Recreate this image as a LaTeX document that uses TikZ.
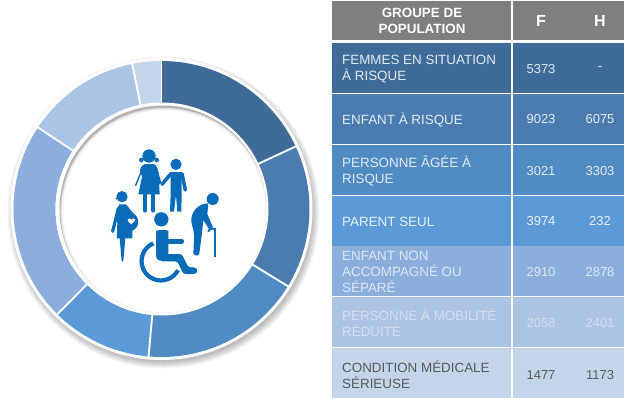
\documentclass[tikz,border=0pt]{standalone}
\usepackage{fontspec}
\setmainfont{Liberation Sans}
\definecolor{cA}{HTML}{3E6B98}
\definecolor{cB}{HTML}{4A7CAF}
\definecolor{cC}{HTML}{508CC3}
\definecolor{cD}{HTML}{5B9AD6}
\definecolor{cE}{HTML}{8BAEDC}
\definecolor{cF}{HTML}{ACC4E4}
\definecolor{cG}{HTML}{C4D5EB}
\definecolor{cH}{HTML}{7F7F7F}
\definecolor{ic}{HTML}{0A6CB8}
\newcommand{\ringseg}[3]{\fill[#1,shift={(161.5,209)}] (#2-90:148) arc[start angle=#2-90,end angle=#3-90,radius=148] -- (#3-90:106) arc[start angle=#3-90,end angle=#2-90,radius=106] -- cycle;
\draw[white,line width=1.9pt,shift={(161.5,209)}] (#2-90:104) -- (#2-90:150);}
\tikzset{
 cell/.style={anchor=north west,inner sep=0pt,outer sep=0pt,minimum width=#1,minimum height=50pt},
 lab/.style={anchor=west,inner sep=0pt,align=left,font=\fontsize{13.4}{16}\selectfont},
 num/.style={inner sep=0pt,font=\fontsize{13}{16}\selectfont},
 head/.style={inner sep=0pt,align=center,text=white,font=\bfseries\fontsize{13.4}{16}\selectfont},
 limb/.style={draw=ic,line cap=round,line join=round,line width=#1},
}
\begin{document}
\begin{tikzpicture}[x=1pt,y=1pt,yscale=-1]
\useasboundingbox (0,0) rectangle (624,397);
\fill[white] (0,0) rectangle (624,397);
% outer soft shadow
\foreach \r in {156,155,154,153,152,151,150,149}{\fill[black,opacity=0.035] (163.5,212.5) circle[radius=\r];}
\fill[white] (161.5,209) circle[radius=151];
% ring
\ringseg{cA}{0}{65}
\ringseg{cB}{65}{121.4}
\ringseg{cC}{121.4}{185}
\ringseg{cD}{185}{224.7}
\ringseg{cE}{224.7}{303.4}
\ringseg{cF}{303.4}{348.6}
\ringseg{cG}{348.6}{360}
\draw[white,line width=1.9pt,shift={(161.5,209)}] (-90:104) -- (-90:150);
% inner disc with inner shadow
\fill[white] (162,209) circle[radius=106.5];
\begin{scope}
\clip (163,209) circle[radius=103.5];
\fill[black!30] (163,209) circle[radius=103.5];
\foreach \r/\o in {104/0.25,103.5/0.3,103/0.35,102.5/0.4,102/0.45,101.5/0.5,101/0.55,100.5/0.6,100/0.7}{\fill[white,opacity=\o] (164.2,211.5) circle[radius=\r];}
\fill[white] (164.2,211.5) circle[radius=99.5];
\end{scope}
% icons
\begin{scope}[shift={(100,140)},scale=1/3]
% woman
\fill[ic] (147,48) circle[radius=20];
\fill[ic] (124,60) circle[radius=7];
\fill[ic] (170,60) circle[radius=7];
\fill[ic] (135,72) -- (159,72) .. controls (170,74) and (172,85) .. (176,100) -- (179,163) -- (115,163) -- (126,110) -- (120,90) .. controls (124,78) and (128,74) .. (135,72) -- cycle;
\fill[ic] (159,72) .. controls (170,76) and (172,85) .. (176,100) -- (184,128) -- (176,135) -- (160,100) -- cycle;
\draw[limb=1.4pt] (130,80) -- (107,136);
\draw[limb=3.8pt] (136,160) -- (136,212);
\draw[limb=3.8pt] (160,160) -- (160,212);
% child
\fill[ic] (228,73) circle[radius=17];
\fill[ic] (212,96) -- (245,96) -- (245,160) -- (244,215) -- (232,215) -- (228,165) -- (222,215) -- (210,215) -- (212,160) -- cycle;
\draw[limb=3.5pt] (213,101) -- (186,133);
\draw[limb=3.5pt] (246,101) -- (256,150);
% pregnant woman
\fill[ic] (66,170) circle[radius=17];
\fill[ic] (49,176) circle[radius=3];
\fill[ic] (58,193) -- (78,193) .. controls (88,205) and (92,212) .. (100,220) .. controls (120,232) and (120,262) .. (97,272) -- (97,295) -- (50,295) -- (52,250) -- (48,215) -- cycle;
\draw[limb=3.2pt] (55,205) -- (38,274);
\fill[ic] (59,293) -- (76,293) -- (70,364) -- (65,364) -- cycle;
\fill[white] (94,253) -- (84,243) .. controls (80,235) and (92,232) .. (94,240) .. controls (97,232) and (108,235) .. (104,243) -- cycle;
% wheelchair user
\fill[ic] (184,238) circle[radius=21.5];
\draw[limb=5pt] (179,276) -- (197,276) -- (197,304) -- (245,304);
\fill[ic] (168,272) -- (205,272) -- (205,342) -- (178,362) .. controls (170,360) and (168,352) .. (168,345) -- cycle;
\fill[ic,rounded corners=2.5pt] (175,342) -- (245,342) -- (265,382) -- (287,382) -- (294,392) -- (287,402) -- (250,402) -- (232,364) -- (180,364) -- cycle;
\draw[ic,line width=4.2pt] (160,310) arc[start angle=-113,end angle=-332,radius=58];
% old man
\fill[ic] (338,177) circle[radius=18];
\fill[ic] (325,190) .. controls (295,190) and (272,215) .. (274,245) .. controls (276,262) and (284,270) .. (282,300) -- (280,340) .. controls (286,350) and (296,348) .. (298,340) -- (306,280) -- (310,240) -- (330,272) -- (340,265) -- (322,222) -- cycle;
\draw[ic,line width=1.9pt] (344,265) -- (344,350);
\draw[ic,line width=1.9pt,line cap=round] (325,274) .. controls (330,264) and (340,262) .. (344,268);
\end{scope}
% table
\node[cell=179pt,minimum height=39pt,fill=cH] (h1) at (332,1) {};
\node[cell=111pt,minimum height=39pt,fill=cH] (h2) at (513,1) {};
\node[head] (th1) at (422,20.5) {GROUPE DE\\POPULATION};
\node[head,font=\bfseries\fontsize{16}{18}\selectfont] (th2) at (541,20.5) {F};
\node[head,font=\bfseries\fontsize{16}{18}\selectfont] (th3) at (600,20.5) {H};
\foreach \n/\y/\c in {a/43/cA,b/94/cB,c/145/cC,d/196/cD,e/246/cE,f/297/cF,g/348/cG}{
 \node[cell=179pt,fill=\c] (l\n) at (332,\y) {};
 \node[cell=111pt,fill=\c] (r\n) at (513,\y) {};
}
\foreach \n/\y/\t/\f/\h/\c in {a/69/{FEMMES EN SITUATION\\À RISQUE}/5373/-/E3EAF2,b/119.5/{ENFANT À RISQUE}/9023/6075/E3EAF2,c/171/{PERSONNE ÂGÉE À\\RISQUE}/3021/3303/E3EAF2,d/221.5/{PARENT SEUL}/3974/232/E8EFF7,e/272/{ENFANT NON\\ACCOMPAGNÉ OU\\SÉPARÉ}/2910/2878/DCE6F3,f/323/{PERSONNE À MOBILITÉ\\RÉDUITE}/2058/2401/D3DFF0,g/375/{CONDITION MÉDICALE\\SÉRIEUSE}/1477/1173/595959}{
 \definecolor{tc}{HTML}{\c}
 \node[lab,text=tc] (t\n) at (342,\y) {\t};
 \node[num,text=tc] (f\n) at (541,\y) {\f};
 \node[num,text=tc] (m\n) at (600,\y) {\h};
}
\end{tikzpicture}
\end{document}
